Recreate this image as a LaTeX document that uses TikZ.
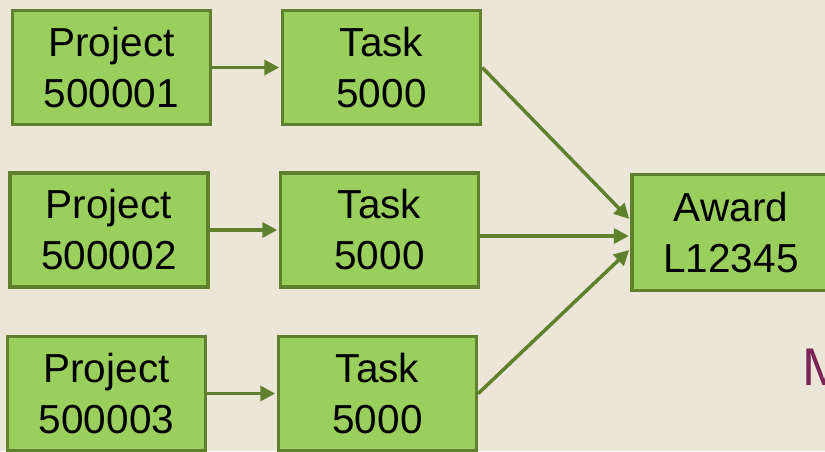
\documentclass[tikz,border=0pt]{standalone}
\usepackage{fontspec}
\setmainfont{Liberation Sans}
\usetikzlibrary{arrows.meta,calc}
\definecolor{bg}{RGB}{236,230,216}
\definecolor{boxfill}{RGB}{155,207,93}
\definecolor{boxline}{RGB}{95,128,45}
\definecolor{maroon}{RGB}{122,35,85}
\tikzset{
  box/.style={draw=boxline, fill=boxfill, line width=3.5pt, minimum width=198pt, minimum height=114pt, inner sep=0pt, align=center, font=\fontsize{40.5}{51}\selectfont},
  conn/.style={draw=boxline, line width=3.5pt, -{Triangle[length=15pt,width=15pt]}, shorten >=1.5pt}
}
\begin{document}
\begin{tikzpicture}[x=1pt,y=-1pt]
\useasboundingbox (0,0) rectangle (825,451);
\clip (0,0) rectangle (825,451);
\fill[bg] (0,0) rectangle (825,451);
\node[box] (p1) at (111.5,67.5) {Project\\500001};
\node[box] (t1) at (381.5,67.5) {Task\\5000};
\node[box] (p2) at (109,230) {Project\\500002};
\node[box] (t2) at (379.5,230) {Task\\5000};
\node[box] (p3) at (106.5,393.5) {Project\\500003};
\node[box] (t3) at (377.5,393.5) {Task\\5000};
\node[box, minimum height=116pt] (a) at (731,232.5) {Award\\L12345};
\node[anchor=base west, inner sep=0pt, text=maroon, font=\fontsize{53}{60}\selectfont] (m) at (802,385) {M};
\coordinate (a1) at ($(a.west)+(0,-12.5)$);
\coordinate (a2) at ($(a.west)+(0,3.5)$);
\coordinate (a3) at ($(a.west)+(0,16.5)$);
\draw[conn] (p1.east) -- (t1.west);
\draw[conn] (p2.east) -- (t2.west);
\draw[conn] (p3.east) -- (t3.west);
\draw[conn] (t1.east) -- (a1);
\draw[conn] (t2.east |- a2) -- (a2);
\draw[conn] (t3.east) -- (a3);
\end{tikzpicture}
\end{document}
